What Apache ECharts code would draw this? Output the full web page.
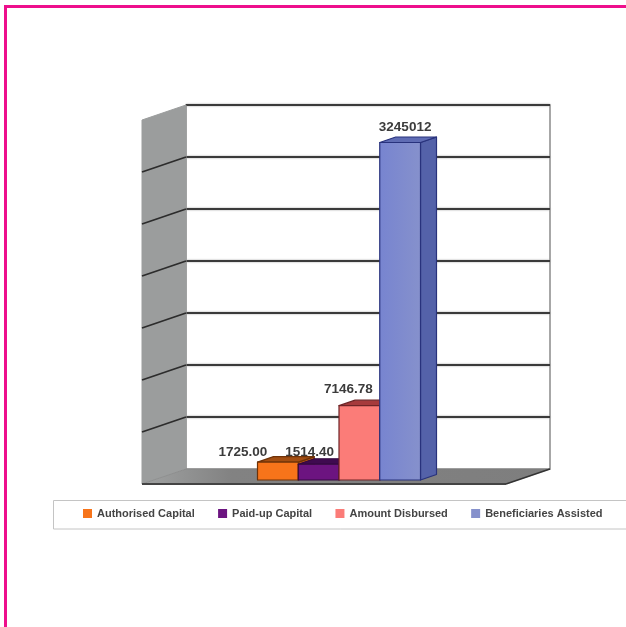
<!DOCTYPE html>
<html><head><meta charset="utf-8">
<style>html,body{margin:0;padding:0;background:#fff;overflow:hidden}#c{width:626px;height:627px}</style>
<script src="https://cdn.jsdelivr.net/npm/echarts@6/dist/echarts.min.js"></script>
</head><body><div id="c"></div>
<script>
const categories = ['Authorised Capital','Paid-up Capital','Amount Disbursed','Beneficiaries Assisted'];
const barHeights = [1725.00, 1514.40, 7146.78, 32450.12];
const valueLabels = ['1725.00','1514.40','7146.78','3245012'];
const axisTicks = [0,5000,10000,15000,20000,25000,30000,35000];

const faceColors = ['#f7741a','#6c1480','#fb7c78','#8691cc'];
const faceLeftColors = ['#f7741a','#6c1480','#fb7c78','#7784d0'];
const topColors = ['#a34e12','#3f0a50','#a63a3c','#5f6cb4'];
const sideColors = ['#c05a10','#4c0e5c','#c75c58','#5462a9'];
const edgeColors = ['#6e3208','#33083f','#6e2426','#28327c'];
const labelShift = [[-35,-10],[-9,-12],[-11,-16],[5,-15]];
const WALL = [-44, 15], FRONT = [-29, 11], SIDE = [16, -5.5], STEP = 40.75;

function wallItem(p, api){
  const b = api.coord([0,0]), t = api.coord([0,35000]);
  const xL = p.coordSys.x, xR = xL + p.coordSys.width, yB = b[1], yT = t[1];
  return {type:'group', children:[
    {type:'polygon', shape:{points:[[xL,yT],[xL,yB],[xL+WALL[0],yB+WALL[1]],[xL+WALL[0],yT+WALL[1]]]}, style:{fill:'#9b9d9d', stroke:'#9b9d9d', lineWidth:1}},
    {type:'polygon', shape:{points:[[xL,yB],[xR,yB],[xR+WALL[0],yB+WALL[1]],[xL+WALL[0],yB+WALL[1]]]}, style:{fill:{type:'linear',x:0,y:0,x2:1,y2:0,colorStops:[{offset:0,color:'#a0a2a2'},{offset:0.22,color:'#828282'},{offset:1,color:'#7e7e7e'}]}, stroke:'#808080', lineWidth:0.5}},
    {type:'line', shape:{x1:xL+WALL[0],y1:yB+WALL[1],x2:xR+WALL[0],y2:yB+WALL[1]}, style:{stroke:'#444', lineWidth:2}},
    {type:'line', shape:{x1:xR,y1:yB,x2:xR+WALL[0],y2:yB+WALL[1]}, style:{stroke:'#333', lineWidth:1.5}}
  ]};
}
function tickItem(p, api){
  const v = api.value(1);
  if (v === 0 || v === 35000) return null;
  const y = api.coord([0, v])[1], xL = p.coordSys.x;
  return {type:'line', shape:{x1:xL,y1:y,x2:xL+WALL[0],y2:y+WALL[1]}, style:{stroke:'#2c2c2c', lineWidth:1.8}};
}
function barRender(i){
  return function(p, api){
    const c = api.coord([0, api.value(1)]), b = api.coord([0, 0]);
    const x0 = c[0] + (i-2)*STEP + FRONT[0], x1 = x0 + STEP;
    const yT = c[1] + FRONT[1], yB = b[1] + FRONT[1];
    const edge = {stroke:edgeColors[i], lineWidth:1.2, lineJoin:'round'};
    const faceFill = {type:'linear',x:0,y:0,x2:1,y2:0,colorStops:[{offset:0,color:faceLeftColors[i]},{offset:1,color:faceColors[i]}]};
    const kids = [];
    kids.push({type:'polygon', shape:{points:[[x1,yT],[x1+SIDE[0],yT+SIDE[1]],[x1+SIDE[0],yB+SIDE[1]],[x1,yB]]}, style:Object.assign({fill:sideColors[i]},edge)});
    kids.push({type:'polygon', shape:{points:[[x0,yT],[x0+SIDE[0],yT+SIDE[1]],[x1+SIDE[0],yT+SIDE[1]],[x1,yT]]}, style:Object.assign({fill:topColors[i]},edge)});
    kids.push({type:'rect', shape:{x:x0,y:yT,width:STEP,height:yB-yT}, style:Object.assign({fill:faceFill},edge)});
    kids.push({type:'text', z2:50, style:{text:valueLabels[i], x:(x0+x1)/2+labelShift[i][0], y:yT+labelShift[i][1], align:'center', verticalAlign:'middle', fill:'#3c3c3c', font:'bold 13.5px "Liberation Sans", Arial, sans-serif'}});
    return {type:'group', children:kids};
  };
}
const series = [
  {type:'custom', name:'walls', silent:true, data:[[0,0]], encode:{x:0,y:1}, renderItem:wallItem, z:1},
  {type:'custom', name:'ticks', silent:true, data:axisTicks.map(t=>[0,t]), encode:{x:0,y:1}, renderItem:tickItem, z:2}
];
categories.forEach((name,i)=>{
  series.push({type:'custom', name, data:[[0,barHeights[i]]], encode:{x:0,y:1}, renderItem:barRender(i), itemStyle:{color:faceColors[i]}, z:5+i});
});
const chart = echarts.init(document.getElementById('c'), null, {renderer:'canvas'});
chart.setOption({
  animation:false, backgroundColor:'#fff',
  grid:{left:186, top:105, width:364, height:364, show:true, backgroundColor:'#fff', borderColor:'#8a8a8a', borderWidth:1.5},
  xAxis:{type:'category', data:[''], axisLine:{show:false}, axisTick:{show:false}, axisLabel:{show:false}, splitLine:{show:false}},
  yAxis:{type:'value', min:0, max:35000, interval:5000, axisLine:{show:false}, axisTick:{show:false}, axisLabel:{show:false}, splitLine:{show:true, showMinLine:false, lineStyle:{color:'#3a3a3a', width:1.8, shadowColor:'#9a9a9a', shadowBlur:2}}},
  legend:{data:categories, left:78, top:503, icon:'rect', itemWidth:9, itemHeight:9, itemGap:23.3, textStyle:{color:'#444', fontSize:11, fontWeight:'bold', fontFamily:'"Liberation Sans", Arial, sans-serif'}},
  graphic:[
    {type:'rect', silent:true, z:-10, shape:{x:5.5,y:6.5,width:800,height:800}, style:{fill:'none', stroke:'#ee0f8c', lineWidth:3}},
    {type:'rect', silent:true, z:-10, shape:{x:53.5,y:500.5,width:700,height:28.5}, style:{fill:'#fff', stroke:'#c4c4c4', lineWidth:1}}
  ],
  series
});
</script></body></html>
